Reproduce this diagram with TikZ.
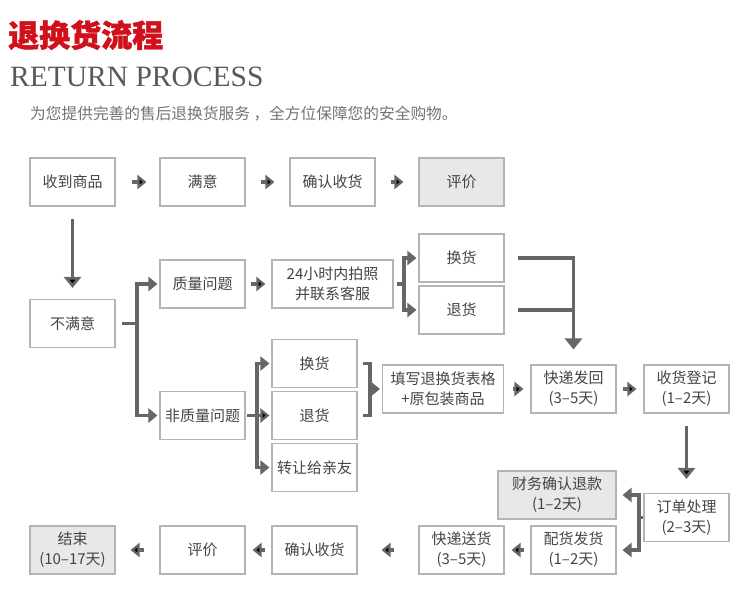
\documentclass[tikz,border=0pt]{standalone}
\usepackage{fontspec}
\setmainfont{Noto Sans CJK SC}
\newfontfamily\latinserif{Liberation Serif}
\newfontfamily\titlefont[BoldFeatures={FakeBold=1.5}]{Noto Sans CJK SC}
\usetikzlibrary{arrows.meta}

\definecolor{boxline}{HTML}{B4B4B4}
\definecolor{boxfill}{HTML}{E8E8E8}
\definecolor{arrowgray}{HTML}{666666}
\definecolor{textgray}{HTML}{444444}
\definecolor{titlered}{HTML}{D0101B}

\tikzset{
	box/.style={shape=rectangle,draw=boxline,line width=1.1pt,minimum width=85pt,minimum height=48pt,inner sep=2pt,align=center,text=textgray,font=\fontsize{15}{20}\selectfont},
	wbox/.style={box,minimum width=121pt},
	done/.style={box,fill=boxfill},
	line/.style={draw=arrowgray,line width=3.2pt},
	arr/.style={line,-{Triangle[length=9pt,width=14pt]}},
	varr/.style={line,-{Triangle[length=11pt,width=17pt]}},
}

\begin{document}
\begin{tikzpicture}[x=1pt,y=-1pt]

	\useasboundingbox (0,0) rectangle (750,592);

	\node[anchor=west,inner sep=0,text=titlered,font=\titlefont\bfseries\fontsize{31}{31}\selectfont] (tt) at (8,35) {退换货流程};
	\node[anchor=base west,inner sep=0,text=black!65,font=\latinserif\fontsize{29.5}{30}\selectfont] (te) at (10,86) {RETURN PROCESS};
	\node[anchor=west,inner sep=0,text=black!55,font=\fontsize{15.7}{16}\selectfont] (ts) at (30,114) {为您提供完善的售后退换货服务 ，全方位保障您的安全购物。};

	\node[box] (rc) at (72.5,182) {收到商品};
	\node[box] (my) at (202.5,182) {满意};
	\node[box] (qr1) at (332.5,182) {确认收货};
	\node[done] (pj1) at (461.5,182) {评价};

	\node[box] (bmy) at (72.5,323.5) {不满意};

	\node[box] (zl) at (202.5,284) {质量问题};
	\node[wbox] (pz) at (332.5,284) {24小时内拍照\\并联系客服};
	\node[box] (hh1) at (461.5,258) {换货};
	\node[box] (th1) at (461.5,310) {退货};

	\node[box] (fzl) at (202.5,415.5) {非质量问题};
	\node[box] (hh2) at (314.5,363.5) {换货};
	\node[box] (th2) at (314.5,415.5) {退货};
	\node[box] (zr) at (314.5,467.5) {转让给亲友};

	\node[wbox] (bg) at (443,389) {填写退换货表格\\+原包装商品};
	\node[box] (kd) at (573.5,389) {快递发回\\(3–5天)};
	\node[box] (dj) at (686.5,389) {收货登记\\(1–2天)};

	\node[box] (dd) at (686.5,517.5) {订单处理\\(2–3天)};
	\node[done,minimum width=118pt] (tk) at (557,495) {财务确认退款\\(1–2天)};
	\node[box] (ph) at (573.5,550) {配货发货\\(1–2天)};
	\node[box] (ks) at (461.5,550) {快递送货\\(3–5天)};
	\node[box] (qr2) at (314.5,550) {确认收货};
	\node[box] (pj2) at (202.5,550) {评价};
	\node[done] (js) at (72.5,550) {结束\\(10–17天)};

	\coordinate (c1) at (137,323.5);
	\coordinate (c2) at (404,284);
	\coordinate (c3) at (257,415.5);
	\coordinate (c4) at (370,389);
	\coordinate (c5) at (639,517.5);

	\path[arr] (rc) edge[shorten <=16pt,shorten >=13pt] (my);
	\path[arr] (my) edge[shorten <=15pt,shorten >=15pt] (qr1);
	\path[arr] (qr1) edge[shorten <=15pt,shorten >=15pt] (pj1);
	\path[varr] (rc) edge[shorten <=12pt,shorten >=11pt] (bmy);

	\draw[line] ([xshift=6pt]bmy.east) -- (c1);
	\draw[arr,shorten >=2pt] (c1) |- (zl.west);
	\draw[arr,shorten >=2pt] (c1) |- (fzl.west);

	\path[arr] (zl) edge[shorten <=5pt,shorten >=6pt] (pz);
	\draw[line] ([xshift=3pt]pz.east) -- (c2);
	\draw[arr,shorten >=2pt] (c2) |- (hh1.west);
	\draw[arr,shorten >=2pt] (c2) |- (th1.west);

	\draw[varr,shorten >=15pt] ([xshift=13pt]hh1.east) -| (kd.north);
	\draw[line] ([xshift=13pt]th1.east) -- (th1.east -| kd.north);

	\path[arr] (fzl) edge[shorten <=1pt,shorten >=2pt] (th2);
	\draw[arr,shorten >=2pt] (c3) |- (hh2.west);
	\draw[arr,shorten >=2pt] (c3) |- (zr.west);

	\draw[line] ([xshift=5pt]hh2.east) -| (c4) |- ([xshift=5pt]th2.east);
	\draw[arr,shorten >=2pt] (c4) -- (bg.west);

	\path[arr] (bg) edge[shorten <=9pt,shorten >=7pt] (kd);
	\path[arr] (kd) edge[shorten <=6pt,shorten >=7pt] (dj);
	\path[varr] (dj) edge[shorten <=12pt,shorten >=14pt] (dd);

	\draw[line] (dd.west) -- (c5);
	\draw[arr,shorten >=6pt] (c5) |- (tk.east);
	\draw[arr,shorten >=6pt] (c5) |- (ph.east);

	\path[arr] (ph) edge[shorten <=6pt,shorten >=7pt] (ks);
	\path[arr] (ks) edge[shorten <=24pt,shorten >=24pt] (qr2);
	\path[arr] (qr2) edge[shorten <=6pt,shorten >=7pt] (pj2);
	\path[arr] (pj2) edge[shorten <=15pt,shorten >=15pt] (js);

\end{tikzpicture}
\end{document}
